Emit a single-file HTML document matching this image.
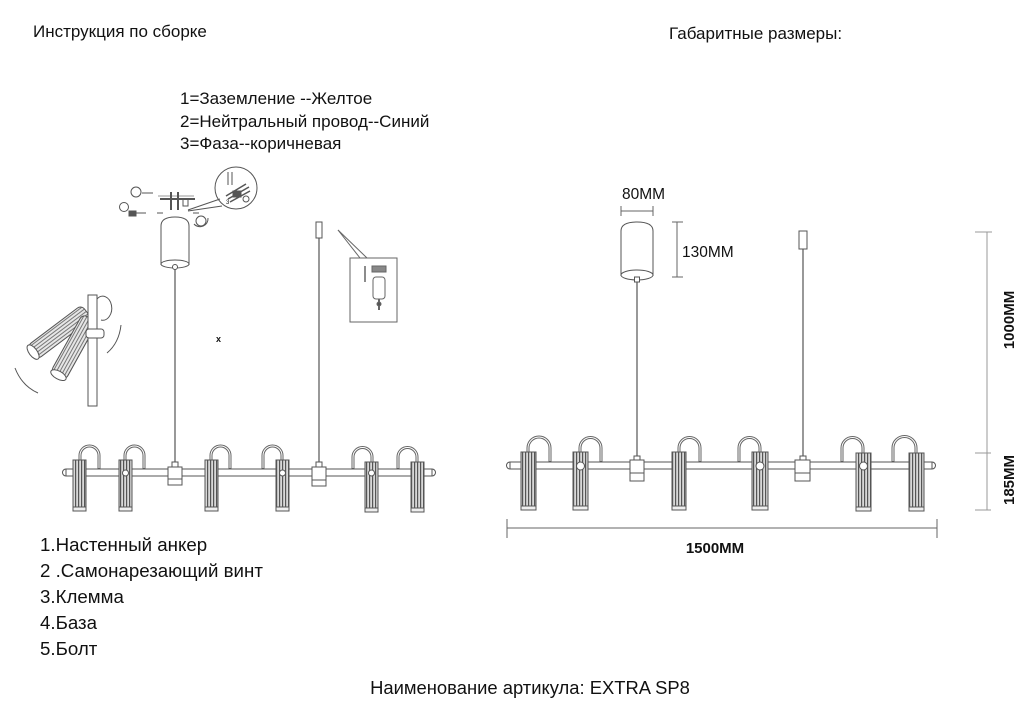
<!DOCTYPE html>
<html><head><meta charset="utf-8"><style>
html,body{margin:0;padding:0;background:#fff;}
svg{display:block;}
text{font-family:"Liberation Sans",Arial,sans-serif;fill:#111;}
</style></head><body>
<svg width="1034" height="724" viewBox="0 0 1034 724" xmlns="http://www.w3.org/2000/svg">
<defs>
<pattern id="st" width="3" height="10" patternUnits="userSpaceOnUse"><rect width="3" height="10" fill="#d8d8d8"/><rect width="1.2" height="10" fill="#555"/></pattern>
<pattern id="st3" width="10" height="3" patternUnits="userSpaceOnUse"><rect width="10" height="3" fill="#e6e6e6"/><rect width="10" height="1" fill="#777"/></pattern>
</defs>

<text x="33" y="37" font-size="17">Инструкция по сборке</text>
<text x="669" y="39" font-size="17">Габаритные размеры:</text>

<text x="180" y="104" font-size="17">1=Заземление --Желтое</text>
<text x="180" y="127" font-size="17">2=Нейтральный провод--Синий</text>
<text x="180" y="149" font-size="17">3=Фаза--коричневая</text>

<text x="40" y="551" font-size="18.7">1.Настенный анкер</text>
<text x="40" y="577" font-size="18.7">2 .Самонарезающий винт</text>
<text x="40" y="603" font-size="18.7">3.Клемма</text>
<text x="40" y="629" font-size="18.7">4.База</text>
<text x="40" y="655" font-size="18.7">5.Болт</text>

<text x="530" y="694" font-size="18.4" text-anchor="middle">Наименование артикула: EXTRA SP8</text>

<!-- ===== Left assembly detail ===== -->
<g stroke="#555" fill="none" stroke-width="1">
  <circle cx="136" cy="192" r="5"/>
  <line x1="142" y1="193" x2="153" y2="193"/>
  <line x1="158" y1="196" x2="194" y2="196" stroke="#999"/>
  <line x1="160" y1="199" x2="195" y2="199" stroke-width="2"/>
  <line x1="171" y1="192" x2="171" y2="210" stroke-width="2"/>
  <line x1="178" y1="192" x2="178" y2="210" stroke-width="2"/>
  <rect x="183" y="199" width="5" height="7"/>
  <circle cx="124" cy="207" r="4.5"/>
  <rect x="129" y="211" width="7" height="5" fill="#555"/>
  <line x1="136" y1="213" x2="146" y2="213"/>
  <line x1="157" y1="213" x2="163" y2="213"/>
  <line x1="193" y1="213" x2="199" y2="213"/>
  <circle cx="201" cy="221" r="5"/>
  <path d="M194 224 A8 8 0 0 0 208 218"/>
  <line x1="188" y1="210" x2="220" y2="199"/>
  <line x1="188" y1="211" x2="222" y2="206"/>
  <circle cx="236" cy="188" r="21"/>
  <line x1="228" y1="172" x2="228" y2="185"/>
  <line x1="232" y1="172" x2="232" y2="185"/>
  <path d="M226 196 L246 184 M228 199 L249 187 M230 202 L250 191" stroke-width="1.5"/>
  <rect x="233" y="191" width="8" height="6" fill="#555"/>
  <circle cx="246" cy="199" r="3"/>
  <text x="226" y="204" font-size="6" stroke="none">3</text>
</g>

<g stroke="#555" fill="#fff" stroke-width="1">
  <path d="M161 265 L161 226 Q161 217 175 217 Q189 217 189 226 L189 265"/>
  <ellipse cx="175" cy="264" rx="14" ry="4"/>
  <circle cx="175" cy="267" r="2.5"/>
</g>
<line x1="175" y1="269" x2="175" y2="462" stroke="#555" stroke-width="1.2"/>

<rect x="316" y="222" width="6" height="16" fill="#fff" stroke="#555"/>
<line x1="319" y1="238" x2="319" y2="462" stroke="#555" stroke-width="1.2"/>

<g stroke="#666" fill="none" stroke-width="1">
  <line x1="338" y1="230" x2="360" y2="258"/>
  <line x1="338" y1="230" x2="367" y2="258"/>
  <rect x="350" y="258" width="47" height="64" fill="#fff"/>
  <line x1="365" y1="266" x2="365" y2="282" stroke-width="1.5"/>
  <rect x="372" y="266" width="14" height="6" fill="#888"/>
  <rect x="373" y="277" width="12" height="22" rx="3" fill="#fff"/>
  <line x1="379" y1="299" x2="379" y2="310" stroke-width="2"/>
  <circle cx="379" cy="304" r="2" fill="#555"/>
</g>

<text x="216" y="342" font-size="9" font-weight="bold">x</text>

<!-- rotating spot illustration -->
<g stroke="#555" stroke-width="1">
  <path d="M97 299 A9 12 0 1 1 101 320" fill="none"/>
  <g transform="translate(85,313) rotate(143)">
    <rect x="-2" y="-8.5" width="68" height="17" rx="5" fill="url(#st3)"/>
    <ellipse cx="65" cy="0" rx="4" ry="8.5" fill="#fff"/>
  </g>
  <g transform="translate(89,320) rotate(119)">
    <rect x="-2" y="-8.5" width="66" height="17" rx="5" fill="url(#st3)"/>
    <ellipse cx="63" cy="0" rx="4" ry="8.5" fill="#fff"/>
  </g>
  <rect x="88" y="295" width="9" height="111" fill="#fff"/>
  <rect x="86" y="329" width="18" height="9" rx="3" fill="#fff"/>
  <path d="M15 368 Q22 386 38 393" fill="none"/>
  <path d="M121 325 Q119 343 107 353" fill="none"/>
</g>

<!-- ===== Left fixture ===== -->
<g stroke="#555" stroke-width="1">
  <g fill="none" stroke="#666" stroke-width="3">
    <path d="M80 460 L80 455.5 A9.5 9.5 0 0 1 99 455.5 L99 469"/>
    <path d="M125 460 L125 455.5 A9.5 9.5 0 0 1 144 455.5 L144 469"/>
    <path d="M211 460 L211 455.5 A9.5 9.5 0 0 1 230 455.5 L230 469"/>
    <path d="M263 469 L263 455.5 A9.5 9.5 0 0 1 282 455.5 L282 460"/>
    <path d="M353 469 L353 457 A9.5 9.5 0 0 1 372 457 L372 462"/>
    <path d="M398 469 L398 457 A9.5 9.5 0 0 1 417 457 L417 462"/>
  </g>
  <g fill="none" stroke="#fff" stroke-width="1">
    <path d="M80 460 L80 455.5 A9.5 9.5 0 0 1 99 455.5 L99 468"/>
    <path d="M125 460 L125 455.5 A9.5 9.5 0 0 1 144 455.5 L144 468"/>
    <path d="M211 460 L211 455.5 A9.5 9.5 0 0 1 230 455.5 L230 468"/>
    <path d="M263 468 L263 455.5 A9.5 9.5 0 0 1 282 455.5 L282 460"/>
    <path d="M353 468 L353 457 A9.5 9.5 0 0 1 372 457 L372 462"/>
    <path d="M398 468 L398 457 A9.5 9.5 0 0 1 417 457 L417 462"/>
  </g>
  <path d="M66 469 L432 469 A3.5 3.5 0 0 1 432 476 L66 476 A3.5 3.5 0 0 1 66 469 Z" fill="#fff"/>
  <line x1="66" y1="469" x2="66" y2="476"/>
  <line x1="432" y1="469" x2="432" y2="476"/>
  <g fill="url(#st)">
    <rect x="73" y="460" width="13" height="51"/>
    <rect x="119" y="460" width="13" height="51"/>
    <rect x="205" y="460" width="13" height="51"/>
    <rect x="276" y="460" width="13" height="51"/>
    <rect x="365" y="462" width="13" height="50"/>
    <rect x="411" y="462" width="13" height="50"/>
  </g>
  <g fill="#eee">
    <rect x="73" y="507" width="13" height="4"/>
    <rect x="119" y="507" width="13" height="4"/>
    <rect x="205" y="507" width="13" height="4"/>
    <rect x="276" y="507" width="13" height="4"/>
    <rect x="365" y="508" width="13" height="4"/>
    <rect x="411" y="508" width="13" height="4"/>
  </g>
  <g fill="#fff">
    <circle cx="125.5" cy="473" r="3"/>
    <circle cx="282.5" cy="473" r="3"/>
    <circle cx="371.5" cy="473" r="3"/>
  </g>
  <rect x="172" y="462" width="6" height="5" fill="#fff"/>
  <rect x="168" y="467" width="14" height="18" fill="#fff"/>
  <line x1="168" y1="479" x2="182" y2="479"/>
  <rect x="316" y="462" width="6" height="5" fill="#fff"/>
  <rect x="312" y="467" width="14" height="19" fill="#fff"/>
  <line x1="312" y1="480" x2="326" y2="480"/>
</g>

<!-- ===== Right (dimensions) ===== -->
<g stroke="#555" fill="#fff" stroke-width="1">
  <path d="M621 276 L621 231 Q621 222 637 222 Q653 222 653 231 L653 276"/>
  <ellipse cx="637" cy="275" rx="16" ry="5"/>
  <rect x="634.5" y="277" width="5" height="5"/>
</g>
<line x1="637" y1="282" x2="637" y2="460" stroke="#555" stroke-width="1.2"/>
<rect x="799" y="231" width="8" height="18" fill="#fff" stroke="#555"/>
<line x1="803" y1="249" x2="803" y2="460" stroke="#555" stroke-width="1.2"/>

<g stroke="#666" stroke-width="1" fill="none">
  <line x1="621" y1="211" x2="653" y2="211"/>
  <line x1="621" y1="206" x2="621" y2="216"/>
  <line x1="653" y1="206" x2="653" y2="216"/>
  <line x1="677" y1="222" x2="677" y2="277"/>
  <line x1="672" y1="222" x2="683" y2="222"/>
  <line x1="672" y1="277" x2="683" y2="277"/>
  <line x1="987" y1="232" x2="987" y2="510" stroke="#999"/>
  <line x1="975" y1="232" x2="992" y2="232" stroke="#999"/>
  <line x1="975" y1="453" x2="991" y2="453" stroke="#999"/>
  <line x1="975" y1="510" x2="991" y2="510" stroke="#999"/>
  <line x1="507" y1="528" x2="937" y2="528"/>
  <line x1="507" y1="519" x2="507" y2="538"/>
  <line x1="937" y1="519" x2="937" y2="538"/>
</g>
<text x="622" y="199" font-size="15.5">80MM</text>
<text x="682" y="257" font-size="15.5">130MM</text>
<text x="715" y="553" font-size="15" font-weight="bold" text-anchor="middle">1500MM</text>
<text transform="translate(1014,320) rotate(-90)" font-size="15" font-weight="bold" text-anchor="middle">1000MM</text>
<text transform="translate(1014,480) rotate(-90)" font-size="15" font-weight="bold" text-anchor="middle">185MM</text>

<g stroke="#555" stroke-width="1">
  <g fill="none" stroke="#666" stroke-width="3">
    <path d="M528 452 L528 448 A11 11 0 0 1 550 448 L550 462"/>
    <path d="M580 452 L580 448 A10.5 10.5 0 0 1 601 448 L601 462"/>
    <path d="M679 452 L679 448 A10.5 10.5 0 0 1 700 448 L700 462"/>
    <path d="M739 462 L739 448 A10.5 10.5 0 0 1 760 448 L760 452"/>
    <path d="M842 462 L842 448 A10.5 10.5 0 0 1 863 448 L863 453"/>
    <path d="M893 462 L893 448 A11.5 11.5 0 0 1 916 448 L916 453"/>
  </g>
  <g fill="none" stroke="#fff" stroke-width="1">
    <path d="M528 452 L528 448 A11 11 0 0 1 550 448 L550 461"/>
    <path d="M580 452 L580 448 A10.5 10.5 0 0 1 601 448 L601 461"/>
    <path d="M679 452 L679 448 A10.5 10.5 0 0 1 700 448 L700 461"/>
    <path d="M739 461 L739 448 A10.5 10.5 0 0 1 760 448 L760 452"/>
    <path d="M842 461 L842 448 A10.5 10.5 0 0 1 863 448 L863 453"/>
    <path d="M893 461 L893 448 A11.5 11.5 0 0 1 916 448 L916 453"/>
  </g>
  <path d="M510 462 L932 462 A3.5 3.5 0 0 1 932 469 L510 469 A3.5 3.5 0 0 1 510 462 Z" fill="#fff"/>
  <line x1="510" y1="462" x2="510" y2="469"/>
  <line x1="932" y1="462" x2="932" y2="469"/>
  <g fill="url(#st)">
    <rect x="521" y="452" width="15" height="58"/>
    <rect x="573" y="452" width="15" height="58"/>
    <rect x="672" y="452" width="14" height="58"/>
    <rect x="752" y="452" width="16" height="58"/>
    <rect x="856" y="453" width="15" height="58"/>
    <rect x="909" y="453" width="15" height="58"/>
  </g>
  <g fill="#eee">
    <rect x="521" y="506" width="15" height="4"/>
    <rect x="573" y="506" width="15" height="4"/>
    <rect x="672" y="506" width="14" height="4"/>
    <rect x="752" y="506" width="16" height="4"/>
    <rect x="856" y="507" width="15" height="4"/>
    <rect x="909" y="507" width="15" height="4"/>
  </g>
  <g fill="#fff">
    <circle cx="580.5" cy="466" r="4"/>
    <circle cx="760" cy="466" r="4"/>
    <circle cx="863.5" cy="466" r="4"/>
  </g>
  <rect x="634" y="456" width="6" height="4" fill="#fff"/>
  <rect x="630" y="460" width="14" height="21" fill="#fff"/>
  <line x1="630" y1="473" x2="644" y2="473"/>
  <rect x="800" y="456" width="6" height="4" fill="#fff"/>
  <rect x="795" y="460" width="15" height="21" fill="#fff"/>
  <line x1="795" y1="473" x2="810" y2="473"/>
</g>
</svg>
</body></html>
